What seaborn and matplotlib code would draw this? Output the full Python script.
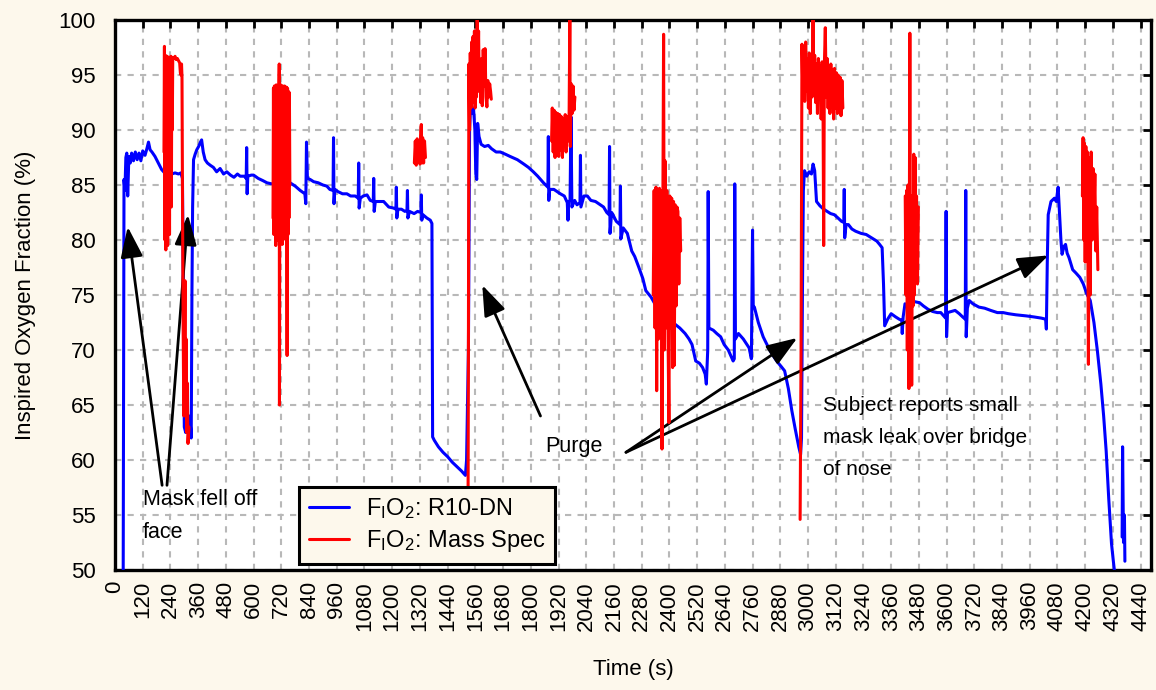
import pandas as pd
import matplotlib.pyplot as plt
import seaborn as sns
import numpy as np
from matplotlib.lines import Line2D

# F_IO_2 measured by the R10-DN sensor (time in s, value in %)
blue_t = [35, 39, 43, 47, 51, 55, 60, 66, 72, 80, 88, 96, 104, 112, 120, 130, 138, 145, 152, 160,
          173, 185, 195, 202, 215, 230, 245, 260, 275, 285, 292, 296, 300, 306, 312, 318, 324, 330, 333, 336,
          340, 347, 354, 362, 370, 375, 382, 390, 400, 412, 426, 440, 455, 470, 484, 500, 515, 530, 542, 560,
          568, 570, 572, 575, 590, 600, 620, 640, 658, 680, 700, 715, 735, 758, 780, 802, 822, 826, 829, 833,
          845, 860, 880, 900, 917, 930, 944, 946, 948, 952, 965, 985, 1004, 1020, 1040, 1053, 1055, 1057, 1062, 1075,
          1091, 1105, 1118, 1120, 1122, 1127, 1145, 1163, 1185, 1206, 1216, 1218, 1220, 1225, 1240, 1255, 1264, 1266, 1268, 1275,
          1295, 1310, 1324, 1326, 1328, 1333, 1350, 1365, 1372, 1375, 1382, 1400, 1420, 1440, 1460, 1480, 1500, 1517, 1522, 1530,
          1535, 1540, 1547, 1552, 1558, 1562, 1566, 1570, 1576, 1585, 1600, 1616, 1630, 1650, 1668, 1690, 1710, 1742, 1770, 1790,
          1811, 1830, 1855, 1874, 1876, 1878, 1882, 1900, 1928, 1945, 1958, 1961, 1964, 1970, 1974, 1978, 1990, 2000, 2013, 2015,
          2017, 2030, 2045, 2060, 2080, 2101, 2115, 2129, 2139, 2141, 2143, 2150, 2158, 2170, 2186, 2188, 2190, 2200, 2218, 2237,
          2250, 2268, 2285, 2298, 2321, 2345, 2370, 2395, 2421, 2445, 2468, 2485, 2498, 2514, 2530, 2544, 2555, 2560, 2566, 2568,
          2571, 2590, 2605, 2622, 2637, 2655, 2676, 2681, 2683, 2686, 2699, 2720, 2745, 2755, 2760, 2763, 2768, 2785, 2806, 2820,
          2837, 2855, 2868, 2884, 2899, 2915, 2930, 2945, 2960, 2968, 2972, 2976, 2980, 2985, 2995, 3005, 3015, 3022, 3029, 3037,
          3052, 3068, 3083, 3098, 3114, 3130, 3145, 3155, 3157, 3159, 3165, 3175, 3190, 3206, 3230, 3252, 3275, 3298, 3310, 3321,
          3327, 3332, 3345, 3360, 3380, 3395, 3406, 3408, 3412, 3420, 3440, 3460, 3483, 3500, 3520, 3540, 3560, 3575, 3596, 3598,
          3600, 3604, 3620, 3637, 3655, 3670, 3681, 3683, 3685, 3690, 3698, 3714, 3740, 3765, 3791, 3820, 3845, 3868, 3900, 3945,
          3980, 4010, 4029, 4032, 4036, 4040, 4052, 4067, 4075, 4083, 4090, 4095, 4100, 4108, 4115, 4122, 4130, 4146, 4160, 4177,
          4192, 4207, 4222, 4238, 4253, 4268, 4280, 4291, 4302, 4314, 4322, 4329]
blue_v = [45.0, 85.5, 84.5, 87.5, 87.9, 84.0, 87.6, 87.0, 87.9, 87.2, 88.0, 87.3, 87.9, 87.2, 88.1, 87.7, 88.3, 88.9, 88.2, 88.0,
          87.6, 87.1, 86.7, 86.4, 86.1, 86.2, 86.0, 86.1, 86.0, 86.1, 85.6, 74.0, 63.0, 62.5, 64.5, 62.8, 64.0, 62.0, 75.0, 83.0,
          87.3, 87.8, 88.2, 88.5, 88.9, 89.1, 88.0, 87.3, 87.0, 86.8, 86.6, 86.2, 86.5, 86.0, 86.2, 85.9, 85.7, 86.0, 85.8, 85.8,
          85.6, 88.4, 84.2, 85.8, 85.9, 85.9, 85.6, 85.4, 85.2, 85.1, 85.0, 84.9, 85.1, 85.2, 84.9, 84.5, 84.2, 83.3, 88.9, 85.6,
          85.5, 85.3, 85.2, 85.0, 84.9, 84.6, 84.5, 89.3, 83.3, 84.6, 84.4, 84.2, 84.2, 84.0, 84.0, 83.8, 87.0, 82.9, 83.8, 84.0,
          84.1, 83.6, 83.5, 85.6, 82.6, 83.5, 83.5, 83.5, 83.0, 82.9, 82.8, 84.8, 82.0, 82.8, 82.8, 82.6, 82.7, 84.5, 82.0, 82.6,
          82.4, 82.6, 82.5, 84.1, 81.8, 82.3, 82.0, 81.8, 81.5, 62.1, 61.8, 61.2, 60.7, 60.3, 59.8, 59.4, 59.0, 58.6, 60.0, 70.0,
          90.0, 92.4, 91.5, 92.0, 90.0, 86.0, 85.5, 90.6, 89.4, 88.7, 88.5, 88.6, 88.3, 88.0, 88.0, 87.8, 87.6, 87.3, 86.9, 86.6,
          86.2, 85.8, 85.2, 84.8, 89.4, 83.6, 84.6, 84.6, 84.2, 84.0, 83.4, 81.8, 83.5, 83.6, 91.2, 83.0, 83.6, 83.2, 83.4, 87.7,
          83.0, 84.0, 84.0, 83.6, 83.5, 83.2, 83.0, 82.5, 82.3, 88.5, 80.6, 82.5, 82.2, 81.7, 81.4, 84.9, 80.1, 81.1, 80.6, 79.0,
          78.5, 77.5, 76.5, 75.4, 74.8, 73.9, 73.5, 73.0, 72.4, 72.0, 71.5, 71.0, 70.5, 69.0, 68.8, 68.4, 67.8, 66.9, 70.0, 84.4,
          72.0, 71.8, 71.5, 71.2, 70.5, 70.0, 69.0, 69.2, 85.1, 71.0, 71.5, 71.0, 70.2, 69.2, 80.9, 74.0, 73.9, 72.5, 71.2, 70.6,
          69.9, 69.3, 68.9, 68.5, 68.1, 66.5, 64.5, 62.8, 61.2, 60.5, 62.0, 75.0, 84.5, 86.3, 85.8, 86.2, 86.0, 86.9, 86.3, 83.5,
          83.1, 82.8, 82.6, 82.4, 82.3, 82.0, 81.7, 81.6, 84.6, 80.2, 81.4, 81.4, 81.0, 80.8, 80.6, 80.5, 80.2, 79.9, 79.6, 79.3,
          76.0, 72.2, 72.8, 73.3, 73.0, 72.8, 72.7, 71.5, 73.0, 74.2, 74.0, 74.4, 74.3, 74.0, 73.7, 73.5, 73.4, 73.4, 72.9, 82.6,
          71.2, 73.4, 73.5, 73.6, 73.3, 73.0, 72.8, 84.5, 71.2, 73.8, 74.5, 74.2, 73.9, 73.8, 73.6, 73.4, 73.4, 73.3, 73.2, 73.1,
          73.0, 72.9, 72.8, 71.9, 78.0, 82.3, 83.5, 83.8, 83.5, 84.8, 82.0, 80.0, 78.7, 79.4, 79.6, 78.8, 78.4, 77.3, 77.0, 76.6,
          76.0, 75.1, 74.5, 72.5, 69.9, 66.9, 64.0, 60.8, 56.5, 52.4, 50.8, 49.5]
blue_tail_t = [4360, 4362, 4366, 4370, 4372]
blue_tail_v = [53.0, 61.2, 52.5, 55.0, 50.8]

# F_IO_2 from the mass spectrometer, only recorded in bursts
red1_t = [212, 214, 216, 218, 220, 222, 224, 226, 228, 230, 232, 234, 236, 238, 240, 242, 244, 246, 248, 250,
          255, 260, 265, 270, 275, 280, 283, 286, 288, 290, 292, 295, 298, 301, 303, 305, 308, 310, 313, 316, 320]
red1_v = [88.0, 97.6, 80.0, 96.8, 79.1, 96.4, 82.0, 96.7, 79.5, 96.5, 84.0, 96.6, 80.5, 96.4, 86.0, 96.7, 83.0, 96.5, 90.0, 96.6,
          96.5, 96.7, 96.4, 96.5, 96.3, 96.1, 95.2, 95.0, 96.0, 94.8, 85.0, 72.0, 64.0, 70.0, 76.3, 66.0, 71.0, 62.5, 67.0, 61.5, 63.0]
red2_t = [684, 686, 688, 690, 692, 694, 696, 698, 700, 702, 704, 706, 708, 710, 711, 712, 714, 716, 718, 720,
          722, 724, 726, 728, 730, 732, 734, 736, 738, 740, 742, 745, 747, 749, 751, 753, 755, 757]
red2_v = [82.0, 93.8, 80.5, 94.0, 81.0, 93.6, 79.5, 94.1, 82.0, 93.7, 80.0, 94.0, 81.5, 94.2, 96.0, 65.0, 93.9, 80.0, 94.1, 81.0,
          93.8, 79.6, 94.0, 82.5, 93.7, 80.5, 94.0, 81.5, 93.6, 80.0, 93.9, 69.5, 93.8, 80.5, 93.5, 82.0, 93.4, 85.0]
red3_t = [1296, 1300, 1304, 1308, 1312, 1316, 1320, 1323, 1326, 1329, 1332, 1336, 1340, 1344]
red3_v = [87.0, 89.0, 86.8, 89.2, 87.2, 89.0, 86.9, 89.5, 90.5, 87.0, 89.3, 87.0, 89.0, 87.5]
red4_t = [1528, 1530, 1532, 1535, 1538, 1541, 1544, 1547, 1550, 1553, 1556, 1559, 1562, 1565, 1568, 1571, 1574, 1577, 1580, 1583,
          1587, 1590, 1594, 1598, 1602, 1606, 1610, 1614, 1618, 1622, 1626, 1629]
red4_v = [52.0, 70.0, 96.0, 90.0, 97.0, 92.0, 98.0, 92.5, 98.5, 93.0, 99.0, 92.0, 98.0, 93.0, 100.5, 95.0, 99.0, 93.5, 96.0, 92.5,
          96.5, 92.2, 97.3, 94.0, 97.4, 93.0, 92.1, 94.5, 93.0, 94.2, 93.5, 92.8]
red5_t = [1890, 1893, 1897, 1901, 1905, 1909, 1913, 1917, 1921, 1925, 1929, 1933, 1937, 1941, 1945, 1949, 1953, 1957, 1962, 1966,
          1969, 1971, 1975, 1979, 1983, 1987, 1991]
red5_v = [89.0, 92.0, 88.0, 91.8, 87.5, 91.6, 88.5, 91.5, 87.6, 91.4, 88.2, 91.2, 87.5, 91.0, 88.8, 91.4, 88.0, 91.2, 89.0, 91.5,
          100.0, 88.5, 94.2, 91.5, 94.0, 91.8, 93.0]
red6_t = [2330, 2334, 2338, 2342, 2345, 2349, 2353, 2357, 2361, 2365, 2368, 2372, 2375, 2378, 2381, 2385, 2389, 2393, 2398, 2402,
          2406, 2410, 2414, 2418, 2421, 2425, 2429, 2433, 2437, 2441, 2445, 2449]
red6_v = [75.0, 84.5, 72.0, 84.8, 66.3, 84.6, 71.0, 84.7, 73.0, 84.5, 61.0, 84.2, 98.7, 70.0, 87.2, 72.0, 84.5, 74.0, 63.4, 84.0,
          72.0, 83.8, 68.4, 83.5, 68.6, 83.2, 74.0, 83.0, 82.6, 76.0, 82.0, 79.0]
red7_t = [2966, 2970, 2974, 2978, 2982, 2986, 2990, 2994, 2998, 3002, 3006, 3010, 3014, 3018, 3022, 3025, 3029, 3033, 3037, 3041,
          3045, 3049, 3053, 3057, 3061, 3065, 3068, 3071, 3075, 3079, 3083, 3087, 3091, 3095, 3099, 3103, 3107, 3111, 3115, 3119,
          3123, 3127, 3131, 3135, 3139, 3143, 3147, 3151]
red7_v = [54.6, 69.6, 97.8, 93.0, 97.5, 92.6, 98.0, 93.5, 96.5, 92.0, 97.0, 91.5, 96.5, 93.0, 100.5, 94.0, 96.8, 92.5, 96.0, 91.5,
          96.5, 92.8, 95.8, 91.0, 96.2, 93.0, 79.5, 96.0, 99.3, 93.0, 96.5, 92.0, 95.8, 91.5, 96.0, 92.5, 95.5, 91.0, 95.6, 92.0,
          95.2, 91.5, 95.0, 92.0, 94.8, 91.3, 94.5, 92.0]
red8_t = [3421, 3424, 3427, 3430, 3433, 3437, 3441, 3444, 3447, 3449, 3452, 3455, 3458, 3461, 3464, 3467, 3470, 3474, 3478]
red8_v = [84.0, 75.0, 84.5, 70.0, 85.0, 66.5, 98.8, 72.0, 84.0, 66.8, 83.5, 74.0, 87.8, 75.0, 87.5, 80.0, 84.0, 76.0, 83.0]
red9_t = [4188, 4191, 4194, 4197, 4200, 4203, 4207, 4210, 4214, 4218, 4222, 4226, 4230, 4234, 4238, 4242, 4246, 4250, 4255]
red9_v = [84.0, 89.3, 80.0, 88.8, 78.0, 88.5, 82.0, 88.0, 68.7, 87.5, 75.0, 88.0, 80.0, 86.5, 82.0, 86.0, 79.0, 83.0, 77.3]

x_ticks = list(range(0, 4441, 120))
y_ticks = list(range(50, 101, 5))

lab_blue = r'$\mathregular{F_IO_2}$: R10-DN'
lab_red = r'$\mathregular{F_IO_2}$: Mass Spec'

# long format, one "seg" per unbroken piece of line
parts = [(blue_t, blue_v, lab_blue), (blue_tail_t, blue_tail_v, lab_blue)]
for t, v in [(red1_t, red1_v), (red2_t, red2_v), (red3_t, red3_v), (red4_t, red4_v), (red5_t, red5_v),
             (red6_t, red6_v), (red7_t, red7_v), (red8_t, red8_v), (red9_t, red9_v)]:
    parts.append((t, v, lab_red))
frames = []
for i, (t, v, lab) in enumerate(parts):
    frames.append(pd.DataFrame({'Time': t, 'FiO2': v, 'series': lab, 'seg': i}))
df = pd.concat(frames, ignore_index=True)

bg = '#fdf8ec'
sns.set_style('white')
plt.rcParams['font.family'] = ['Liberation Sans', 'DejaVu Sans']
plt.rcParams['mathtext.fontset'] = 'custom'
plt.rcParams['mathtext.rm'] = 'Liberation Sans'
for k in ['text.color', 'axes.labelcolor', 'xtick.color', 'ytick.color']:
    plt.rcParams[k] = 'black'

fig = plt.figure(figsize=(11.56, 6.90), dpi=100, facecolor=bg)
ax = fig.add_axes([115 / 1156, 120 / 690, 1036 / 1156, 550 / 690])
ax.set_facecolor('white')

sns.lineplot(data=df, x='Time', y='FiO2', hue='series', units='seg', estimator=None, sort=False,
             palette={lab_blue: '#0000ff', lab_red: '#ff0000'}, hue_order=[lab_blue, lab_red],
             linewidth=2.2, ax=ax, legend=False, zorder=3)
# red drawn above blue as in the original
for ln in ax.lines:
    if ln.get_color() in ('#ff0000', (1.0, 0.0, 0.0, 1)):
        ln.set_zorder(4)

ax.set_xlim(0, 4485)
ax.set_ylim(50, 100)
ax.set_xticks(x_ticks)
ax.set_yticks(y_ticks)
ax.set_xticklabels([str(x) for x in x_ticks], rotation=90, fontsize=16)
ax.set_yticklabels([str(y) for y in y_ticks], fontsize=16)
ax.tick_params(direction='in', length=6, width=2, top=True, right=True, colors='black')
ax.tick_params(axis='y', pad=14)
ax.tick_params(axis='x', pad=8)
ax.grid(True, color='#b8b8b8', linestyle=(0, (3, 3)), linewidth=1.5, zorder=0)
ax.set_axisbelow(True)
for s in ax.spines.values():
    s.set_visible(True)
    s.set_color('black')
    s.set_linewidth(2.4)

ax.set_xlabel('Time (s)', fontsize=16, labelpad=20)
ax.set_ylabel('Inspired Oxygen Fraction (%)', fontsize=16, labelpad=16)

arrow = dict(arrowstyle='-|>,head_length=1.1,head_width=0.4', color='black', lw=2,
             shrinkA=0, shrinkB=0, mutation_scale=17)
# Mask fell off
ax.annotate('', xy=(55, 81.2), xytext=(204, 57.7), arrowprops=arrow)
ax.annotate('', xy=(316, 82.3), xytext=(225, 57.7), arrowprops=arrow)
ax.text(121, 57.4, 'Mask fell off\nface', fontsize=15.5, ha='left', va='top', linespacing=1.8, zorder=6)
# Purge
ax.text(1863, 61.2, 'Purge', fontsize=15.5, ha='left', va='center', zorder=6)
ax.annotate('', xy=(1590, 75.9), xytext=(1842, 64.0), arrowprops=arrow)
ax.annotate('', xy=(2954, 71.1), xytext=(2212, 60.7), arrowprops=arrow)
ax.annotate('', xy=(4041, 78.6), xytext=(2212, 60.7), arrowprops=arrow)
# leak note
ax.text(3067, 65.8, 'Subject reports small\nmask leak over bridge\nof nose', fontsize=15,
        ha='left', va='top', linespacing=1.85, zorder=6)

handles = [Line2D([], [], color='#0000ff', lw=2.2), Line2D([], [], color='#ff0000', lw=2.2)]
leg = ax.legend(handles, [lab_blue, lab_red], loc='upper left', bbox_to_anchor=(0.178, 0.151),
                borderaxespad=0, fontsize=17, frameon=True, fancybox=False, framealpha=1,
                facecolor=bg, edgecolor='black', handlelength=1.7, handletextpad=0.7,
                labelspacing=0.3, borderpad=0.4)
leg.get_frame().set_linewidth(2.2)
leg.set_zorder(10)

fig.savefig('out.png', dpi=100, facecolor=bg)
